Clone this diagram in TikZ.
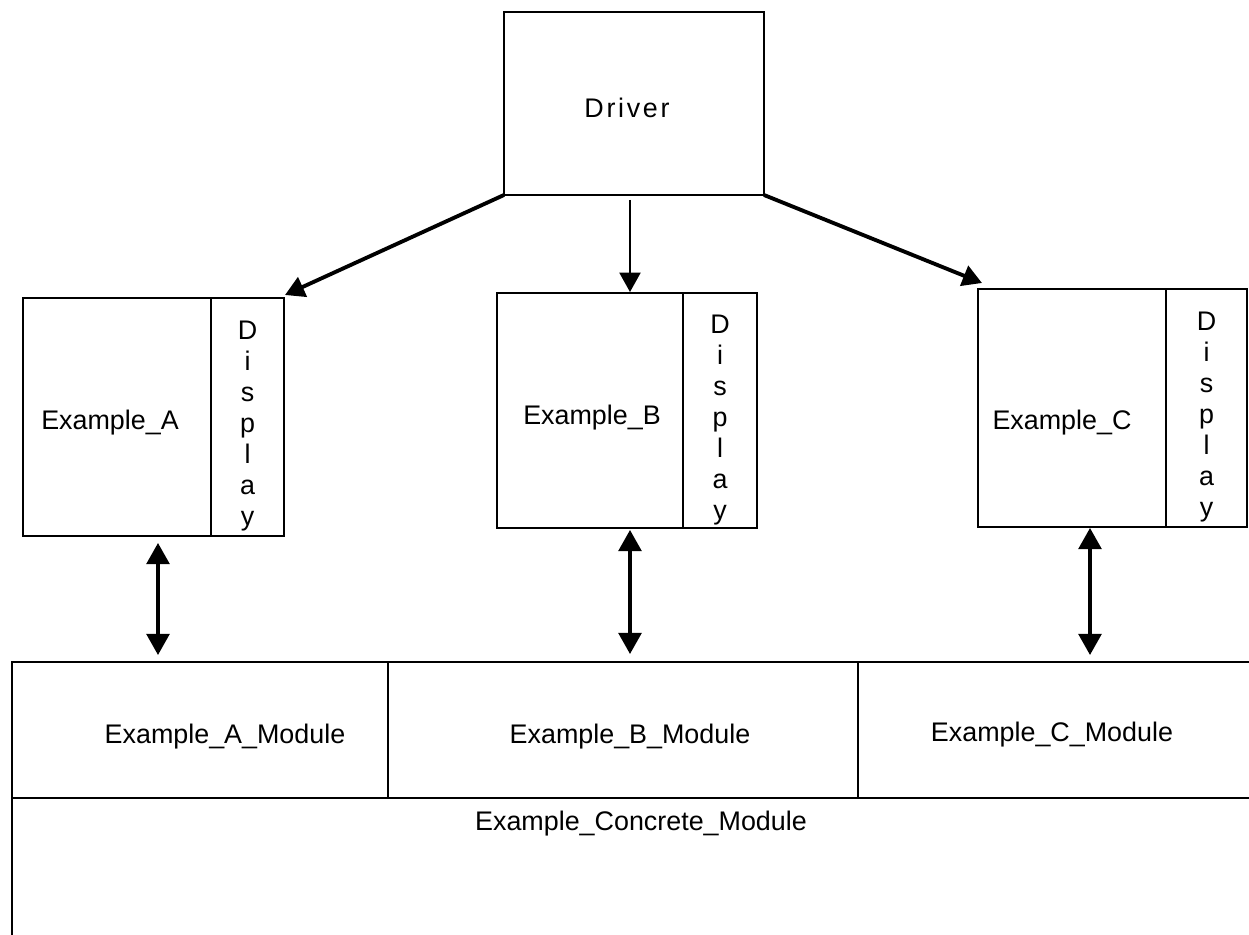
\documentclass[tikz,border=0pt]{standalone}
\usepackage{fontspec}
\setmainfont{Liberation Sans}
\usetikzlibrary{arrows.meta}
\begin{document}
\begin{tikzpicture}[x=0.02cm,y=-0.02cm,
  every node/.style={font=\fontsize{15.3}{17.6}\selectfont, inner sep=0pt, outer sep=0pt},
  box/.style={draw, line width=1.4pt, rectangle},
  lbl/.style={},
  disp/.style={align=center, font=\fontsize{15.3}{17.6}\selectfont},
  ln/.style={line width=1.4pt},
  tri/.style={-{Triangle[length=11pt,width=12pt]}},
  bigarrow/.style={tri, line width=2.2pt},
  thinarrow/.style={tri, line width=1pt},
  dbl/.style={{Triangle[length=12pt,width=13pt]}-{Triangle[length=12pt,width=13pt]}, line width=1.8pt}
]
\useasboundingbox (0,0) rectangle (1249,935);
\coordinate (rEdge) at (1249,0);
% Driver
\node[box, minimum width=5.2cm, minimum height=3.66cm] (drv) at (634,103.5) {};
\node[lbl] (drvt) at (627,108) {\addfontfeature{LetterSpace=10}Driver};
% Example A
\node[box, minimum width=3.76cm, minimum height=4.76cm] (aL) at (117,417) {};
\node[box, minimum width=1.46cm, minimum height=4.76cm] (aD) at (247.5,417) {};
\node[lbl] (aT) at (110,423) {Example\_A};
\node[disp] (aDT) at (247.5,426) {D\\i\\s\\p\\l\\a\\y};
% Example B
\node[box, minimum width=3.72cm, minimum height=4.7cm] (bL) at (590,410.5) {};
\node[box, minimum width=1.48cm, minimum height=4.7cm] (bD) at (720,410.5) {};
\node[lbl] (bT) at (592,418) {Example\_B};
\node[disp] (bDT) at (720,420) {D\\i\\s\\p\\l\\a\\y};
% Example C
\node[box, minimum width=3.76cm, minimum height=4.76cm] (cL) at (1072,408) {};
\node[box, minimum width=1.62cm, minimum height=4.76cm] (cD) at (1206.5,408) {};
\node[lbl] (cT) at (1062,423) {Example\_C};
\node[disp] (cDT) at (1206.5,417) {D\\i\\s\\p\\l\\a\\y};
% Module row
\node[box, minimum width=7.52cm, minimum height=2.72cm] (mA) at (200,730) {};
\node[box, minimum width=9.4cm, minimum height=2.72cm] (mB) at (623,730) {};
\draw[ln] (mB.north east) -- (mB.north east -| rEdge);
\draw[ln] (mB.south east) -- (mB.south east -| rEdge);
\node[lbl] (mAT) at (225,737) {Example\_A\_Module};
\node[lbl] (mBT) at (630,737) {Example\_B\_Module};
\node[lbl] (mCT) at (1052,735) {Example\_C\_Module};
% Concrete module
\coordinate (cmTop) at (12,798);
\coordinate (cmBot) at (12,935);
\draw[ln] (cmTop) -- (cmBot);
\node[lbl] (cmT) at (641,824) {Example\_Concrete\_Module};
% Driver arrows
\coordinate (aTip) at (285,295);
\coordinate (bTip) at (630,292);
\coordinate (cTip) at (982,283);
\draw[bigarrow] (drv.south west) -- (aTip);
\draw[thinarrow] ([yshift=-0.1cm]drv.south -| bTip) -- (bTip);
\draw[bigarrow] (drv.south east) -- (cTip);
% Double arrows
\coordinate (a1) at (158,543);
\coordinate (a2) at (158,655);
\coordinate (b1) at (630,530);
\coordinate (b2) at (630,654);
\coordinate (c1) at (1090,528);
\coordinate (c2) at (1090,655);
\draw[dbl] (a1) -- (a2);
\draw[dbl] (b1) -- (b2);
\draw[dbl] (c1) -- (c2);
\end{tikzpicture}
\end{document}
